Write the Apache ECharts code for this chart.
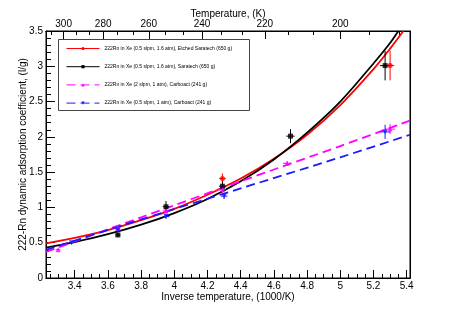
<!DOCTYPE html>
<html>
<head>
<meta charset="utf-8">
<script src="https://cdn.jsdelivr.net/npm/echarts@6/dist/echarts.min.js"></script>
<style>html,body{margin:0;padding:0;background:#fff}#c{width:457px;height:309px}</style>
</head>
<body>
<div id="c"></div>
<script>
// ---- data ----
const xMajorTicks = [3.4, 3.6, 3.8, 4.0, 4.2, 4.4, 4.6, 4.8, 5.0, 5.2, 5.4];
const xMinorTicks = [3.25, 3.3, 3.35, 3.45, 3.5, 3.55, 3.65, 3.7, 3.75, 3.85, 3.9, 3.95, 4.05, 4.1, 4.15, 4.25, 4.3, 4.35, 4.45, 4.5, 4.55, 4.65, 4.7, 4.75, 4.85, 4.9, 4.95, 5.05, 5.1, 5.15, 5.25, 5.3, 5.35];
const tempMajorTicks = [300, 280, 260, 240, 220, 200];
const tempMinorTicks = [306.67, 293.33, 286.67, 273.33, 266.67, 253.33, 246.67, 233.33, 226.67, 213.33, 206.67, 193.33, 186.67];

const legendNames = [
  '222Rn in Xe (0.5 slpm, 1.6 atm), Etched Saratech (650 g)',
  '222Rn in Xe (0.5 slpm, 1.6 atm), Saratech (650 g)',
  '222Rn in Xe (2 slpm, 1 atm), Carboact (241 g)',
  '222Rn in Xe (0.5 slpm, 1 atm), Carboact (241 g)'
];

// fit curves
const redFitX   = [3.227, 3.4, 3.6, 3.8, 4.0, 4.2, 4.4, 4.6, 4.8, 5.0, 5.2, 5.3, 5.38];
const redFitY   = [0.49, 0.57, 0.68, 0.82, 0.98, 1.18, 1.41, 1.69, 2.03, 2.45, 2.96, 3.25, 3.50];
const blackFitX = [3.227, 3.4, 3.6, 3.8, 4.0, 4.2, 4.4, 4.6, 4.8, 5.0, 5.2, 5.3, 5.35];
const blackFitY = [0.43, 0.51, 0.62, 0.755, 0.92, 1.12, 1.37, 1.68, 2.06, 2.50, 3.04, 3.33, 3.50];
const magFitX   = [3.227, 3.8, 4.4, 5.0, 5.42];
const magFitY   = [0.37, 0.86, 1.37, 1.87, 2.23];
const blueFitX  = [3.227, 3.8, 4.4, 5.0, 5.42];
const blueFitY  = [0.40, 0.83, 1.27, 1.71, 2.03];

// measured points: x, y, x error, y error
const redPtsX = [4.29, 5.30];
const redPtsY = [1.41, 3.01];
const redPtsEx = [0.02, 0.025];
const redPtsEy = [0.07, 0.21];

const blackPtsX = [3.66, 3.95, 4.29, 4.70, 5.27];
const blackPtsY = [0.61, 1.01, 1.30, 2.01, 3.01];
const blackPtsEx = [0.015, 0.02, 0.02, 0.025, 0.03];
const blackPtsEy = [0.03, 0.08, 0.07, 0.10, 0.21];

const magPtsX = [3.30, 3.66, 3.95, 4.29, 4.68, 5.30];
const magPtsY = [0.40, 0.71, 0.95, 1.25, 1.625, 2.11];
const magPtsEx = [0.015, 0.015, 0.02, 0.02, 0.025, 0.03];
const magPtsEy = [0.02, 0.03, 0.03, 0.04, 0.03, 0.07];

const bluePtsX = [3.38, 3.66, 3.95, 4.30, 5.27];
const bluePtsY = [0.50, 0.68, 0.87, 1.16, 2.07];
const bluePtsEx = [0.015, 0.015, 0.02, 0.02, 0.03];
const bluePtsEy = [0.02, 0.03, 0.03, 0.04, 0.10];

// ---- build ----
const XMIN = 3.227, XMAX = 5.42;
const FONT = 'Liberation Sans, Arial, Helvetica, sans-serif';
const zip = (a, b) => a.map((v, i) => [v, b[i]]);
const zip4 = (a, b, c, d) => a.map((v, i) => [v, b[i], c[i], d[i]]);

function errSeries(color, data) {
  return {
    type: 'custom', xAxisIndex: 0, yAxisIndex: 0, silent: true, z: 3,
    data: data,
    renderItem: function (params, api) {
      const x = api.value(0), y = api.value(1), ex = api.value(2), ey = api.value(3);
      const a = api.coord([x, y - ey]), b = api.coord([x, y + ey]);
      const c = api.coord([x - ex, y]), d = api.coord([x + ex, y]);
      const st = { stroke: color, lineWidth: 1 };
      return { type: 'group', children: [
        { type: 'line', shape: { x1: a[0], y1: a[1], x2: b[0], y2: b[1] }, style: st },
        { type: 'line', shape: { x1: c[0], y1: c[1], x2: d[0], y2: d[1] }, style: st }
      ]};
    }
  };
}
function fitSeries(name, color, dashed, symbol, rot, data) {
  return {
    name: name, type: 'line', xAxisIndex: 0, yAxisIndex: 0, data: data,
    smooth: 0.3, showSymbol: false, symbol: symbol, symbolSize: 4, symbolRotate: rot,
    itemStyle: { color: color }, clip: true, z: 2,
    lineStyle: { color: color, width: 1.8, type: dashed ? [9, 5] : 'solid' }
  };
}
function ptSeries(color, symbol, rot, size, data) {
  return {
    type: 'scatter', xAxisIndex: 0, yAxisIndex: 0, data: data,
    symbol: symbol, symbolSize: size, symbolRotate: rot, z: 4,
    itemStyle: { color: color }
  };
}

const chart = echarts.init(document.getElementById('c'), null, { renderer: 'canvas' });
const axisBase = {
  type: 'value', min: XMIN, max: XMAX, splitLine: { show: false },
  axisLine: { show: true, lineStyle: { color: '#000', width: 1 } }
};
chart.setOption({
  animation: false,
  backgroundColor: '#fff',
  textStyle: { fontFamily: FONT },
  grid: { left: 46, right: 47, top: 31, bottom: 31, show: true, borderColor: '#000', borderWidth: 1 },
  legend: {
    data: legendNames, orient: 'vertical', left: 61, top: 39,
    itemWidth: 33, itemHeight: 4, itemGap: 11.2, padding: [6, 0, 0, 5],
    lineStyle: { width: 1 },
    textStyle: { fontSize: 5, color: '#000', fontFamily: FONT, lineHeight: 7 },
    selectedMode: false
  },
  graphic: [{
    type: 'rect', left: 58, top: 39, z: 0,
    shape: { width: 191, height: 71 },
    style: { fill: '#fff', stroke: '#444', lineWidth: 1 }
  }],
  xAxis: [
    Object.assign({}, axisBase, {
      position: 'bottom',
      name: 'Inverse temperature, (1000/K)', nameLocation: 'middle', nameGap: 14, nameMoveOverlap: false,
      nameTextStyle: { fontSize: 10, color: '#000', fontFamily: FONT },
      axisTick: { inside: true, length: 8, customValues: xMajorTicks, lineStyle: { color: '#000' } },
      axisLabel: { customValues: xMajorTicks, fontSize: 10, color: '#000', margin: 3,
        formatter: v => String(Math.round(v * 10) / 10) }
    }),
    Object.assign({}, axisBase, {
      position: 'bottom',
      axisTick: { inside: true, length: 4, customValues: xMinorTicks, lineStyle: { color: '#000' } },
      axisLabel: { show: false }
    }),
    Object.assign({}, axisBase, {
      position: 'top',
      name: 'Temperature, (K)', nameLocation: 'middle', nameGap: 12, nameMoveOverlap: false,
      nameTextStyle: { fontSize: 10, color: '#000', fontFamily: FONT },
      axisTick: { inside: true, length: 8, customValues: tempMajorTicks.map(t => 1000 / t), lineStyle: { color: '#000' } },
      axisLabel: { customValues: tempMajorTicks.map(t => 1000 / t), fontSize: 10, color: '#000', margin: 2,
        formatter: v => String(Math.round(1000 / v)) }
    }),
    Object.assign({}, axisBase, {
      position: 'top',
      axisTick: { inside: true, length: 4, customValues: tempMinorTicks.map(t => 1000 / t), lineStyle: { color: '#000' } },
      axisLabel: { show: false }
    })
  ],
  yAxis: [
    {
      type: 'value', min: 0, max: 3.5, interval: 0.5, position: 'left',
      name: '222-Rn dynamic adsorption coefficient, (l/g)', nameLocation: 'middle', nameGap: 18, nameMoveOverlap: false,
      nameTextStyle: { fontSize: 10, color: '#000', fontFamily: FONT },
      splitLine: { show: false },
      axisLine: { show: true, lineStyle: { color: '#000' } },
      axisTick: { inside: true, length: 9, lineStyle: { color: '#000' } },
      minorTick: { show: true, splitNumber: 5, length: 5, lineStyle: { color: '#000' } },
      axisLabel: { fontSize: 10, color: '#000', margin: 3 }
    },
    {
      type: 'value', min: 0, max: 3.5, position: 'right',
      splitLine: { show: false }, axisTick: { show: false }, axisLabel: { show: false },
      axisLine: { show: true, lineStyle: { color: '#000' } }
    }
  ],
  series: [
    fitSeries(legendNames[0], '#ff0000', false, 'circle', 0, zip(redFitX, redFitY)),
    fitSeries(legendNames[1], '#000000', false, 'rect', 0, zip(blackFitX, blackFitY)),
    fitSeries(legendNames[2], '#ff00ff', true, 'triangle', 0, zip(magFitX, magFitY)),
    fitSeries(legendNames[3], '#1a1aff', true, 'triangle', 180, zip(blueFitX, blueFitY)),
    errSeries('#ff0000', zip4(redPtsX, redPtsY, redPtsEx, redPtsEy)),
    errSeries('#000000', zip4(blackPtsX, blackPtsY, blackPtsEx, blackPtsEy)),
    errSeries('#ff00ff', zip4(magPtsX, magPtsY, magPtsEx, magPtsEy)),
    errSeries('#1a1aff', zip4(bluePtsX, bluePtsY, bluePtsEx, bluePtsEy)),
    ptSeries('#ff0000', 'circle', 0, 5, zip(redPtsX, redPtsY)),
    ptSeries('#000000', 'rect', 0, 5, zip(blackPtsX, blackPtsY)),
    ptSeries('#ff00ff', 'triangle', 0, 5, zip(magPtsX, magPtsY)),
    ptSeries('#1a1aff', 'triangle', 180, 5, zip(bluePtsX, bluePtsY))
  ]
});
</script>
</body>
</html>
